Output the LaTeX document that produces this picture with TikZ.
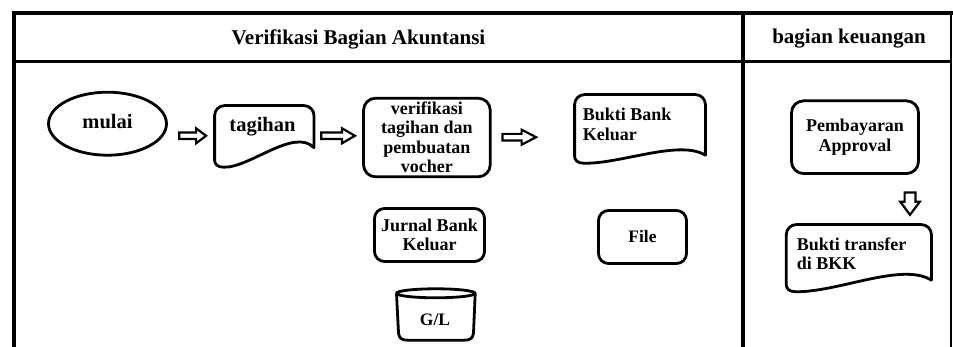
\documentclass[tikz,border=0pt]{standalone}
\usepackage{fontspec}
\setmainfont{Liberation Serif}
\usetikzlibrary{calc,shapes.geometric}
\newcommand\fsz[2]{\fontsize{#1}{#2}\selectfont\bfseries}
% horizontal hollow block arrow: #1 start, #2 tip, #3 head length
\newcommand\harrow[3]{%
  \draw[blk] let \p1=(#1), \p2=(#2) in
    (\x1,\y1+3.3pt) -- (\x2-#3pt,\y1+3.3pt) -- (\x2-#3pt,\y1+7.5pt) -- (\x2,\y1)
    -- (\x2-#3pt,\y1-7.5pt) -- (\x2-#3pt,\y1-3.3pt) -- (\x1,\y1-3.3pt) -- cycle;}
% vertical hollow block arrow (downwards): #1 start, #2 tip, #3 head length
\newcommand\varrow[3]{%
  \draw[blk] let \p1=(#1), \p2=(#2) in
    (\x1-5.4pt,\y1) -- (\x1-5.4pt,\y2+#3pt) -- (\x1-9.7pt,\y2+#3pt) -- (\x1,\y2)
    -- (\x1+9.7pt,\y2+#3pt) -- (\x1+5.4pt,\y2+#3pt) -- (\x1+5.4pt,\y1) -- cycle;}
% document outline round a node: #1 node, #2 right end height, #3 wave control height
\newcommand\docout[3]{%
  \draw[shp] let \p1=(#1.north west), \p2=(#1.south east), \n1={\x2-\x1} in
    (\x1,\y2+7pt) -- (\x1,\y1-10pt) .. controls (\x1,\y1-4.5pt) and (\x1+4.5pt,\y1) .. (\x1+10pt,\y1)
    -- (\x2-10pt,\y1) .. controls (\x2-4.5pt,\y1) and (\x2,\y1-4.5pt) .. (\x2,\y1-10pt)
    -- (\x2,\y2+#2pt) .. controls (\x2-0.2*\n1,\y2+#3pt) and (\x1+0.35*\n1,\y2-1pt) .. (\x1+9pt,\y2)
    .. controls (\x1+3pt,\y2) and (\x1,\y2+3pt) .. (\x1,\y2+7pt) -- cycle;}
\tikzset{
  shp/.style={draw=black, line width=2.8pt, line join=round},
  rbox/.style={shp, rounded corners=#1, inner sep=0pt, align=center, font=\fsz{18}{19.5}},
  rbox/.default=10pt,
  docnode/.style={inner sep=0pt, draw=none},
  lbl/.style={inner sep=0pt, font=\fsz{18}{19.5}},
  hdr/.style={inner sep=0pt, font=\fsz{21}{24}, anchor=base},
  blk/.style={draw=black, fill=white, line width=2.2pt, line join=miter},
  lanes/.style={draw=black, line width=#1},
}
\begin{document}
\begin{tikzpicture}[x=1pt,y=-1pt]
\useasboundingbox (0,0) rectangle (953,347);
\fill[white] (0,0) rectangle (953,347);
% swimlane frame
\draw[lanes=4pt] (14,347) -- (14,13.5) -- (953,13.5);
\draw[lanes=2.5pt] (951,13.5) -- (951,347);
\draw[lanes=3pt] (14,61.7) -- (951,61.7);
\draw[lanes=3.5pt] (743,13.5) -- (743,347);
\node[hdr] (h1) at (358.5,45) {Verifikasi Bagian Akuntansi};
\node[hdr] (h2) at (849,44) {bagian keuangan};
% start
\node[shp, ellipse, minimum width=118pt, minimum height=63pt, inner sep=0pt,
      font=\fsz{20.5}{24}, text depth=5.3pt] (mulai) at (107.5,123.7) {mulai};
% tagihan document
\node[docnode, minimum width=99pt, minimum height=61.2pt] (tagihan) at (264.3,136.4) {};
\docout{tagihan}{19.5}{40}
\node[lbl, font=\fsz{20.5}{24}, anchor=base] (tagihanT) at (262.5,131.7) {tagihan};
% verification process
\node[rbox=12pt, minimum width=126.7pt, minimum height=78.6pt] (verif) at (426.9,137.5)
  {verifikasi\\tagihan dan\\pembuatan\\vocher};
% bukti bank keluar document
\node[docnode, minimum width=130.4pt, minimum height=68.2pt] (bbk) at (640,128.9) {};
\docout{bbk}{8}{24}
\node[lbl, anchor=base west, align=left] (bbkT) at (582.7,140.3) {Bukti Bank\\Keluar};
% jurnal and file
\node[rbox=10pt, minimum width=110pt, minimum height=53pt] (jurnal) at (429.5,235) {Jurnal Bank\\Keluar};
\node[rbox=10pt, minimum width=88pt, minimum height=53pt, font=\fsz{17.5}{19.5}] (file) at (642.5,237) {File};
% G/L cylinder
\draw[shp] (396.5,293.3) -- (398.5,333) .. controls (399,338.5) and (402,340.2) .. (408,340.2)
  -- (464,340.2) .. controls (470,340.2) and (473,338.5) .. (473.5,333) -- (475.2,293.3);
\draw[shp] (435.8,293.3) ellipse [x radius=39.3, y radius=4.5];
\node[lbl, font=\fsz{17.5}{19.5}, anchor=base] (gl) at (435,325.7) {G/L};
% bagian keuangan
\node[rbox=12pt, minimum width=127pt, minimum height=72.7pt] (pemb) at (855,137.2) {Pembayaran\\Approval};
\node[docnode, minimum width=144.7pt, minimum height=66.7pt] (btf) at (858.85,258.15) {};
\docout{btf}{11.5}{30}
\node[lbl, anchor=base west, align=left] (btfT) at (796.7,270) {Bukti transfer\\di BKK};
% block arrows
\harrow{$(mulai.east)+(11.3,12.1)$}{$(tagihan.west)+(-8.5,0)$}{10}
\harrow{$(tagihan.east)+(7.3,-0.6)$}{$(verif.west)+(-7.2,0)$}{13}
\harrow{$(verif.east)+(10.9,-0.3)$}{$(bbk.west)+(-38.5,0)$}{14.5}
\varrow{$(pemb.south)+(55,17.6)$}{$(btf.north)+(51,-9.8)$}{13}
\end{tikzpicture}
\end{document}
